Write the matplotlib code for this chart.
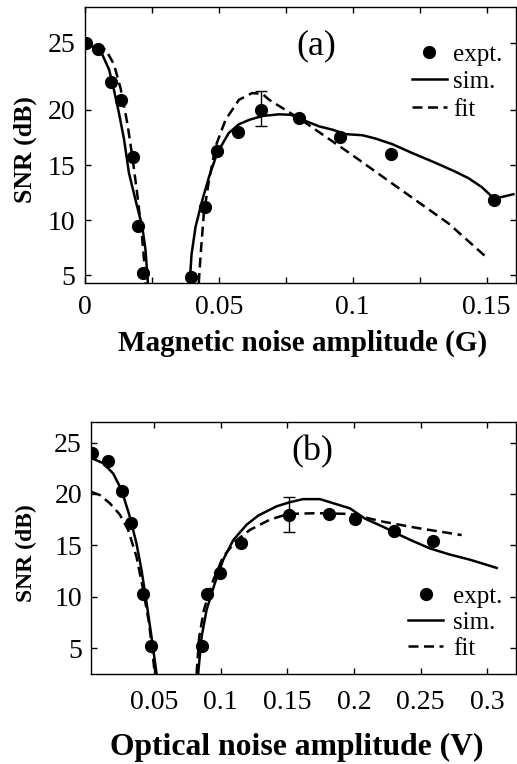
import numpy as np
import matplotlib
matplotlib.use("Agg")
import matplotlib.pyplot as plt
from matplotlib.ticker import FixedLocator, MultipleLocator

plt.rcParams['font.family'] = ['Liberation Serif', 'DejaVu Serif']
plt.rcParams['mathtext.fontset'] = 'stix'

# ---------------- Panel (a): magnetic noise ----------------
a_expt_x = [0.0003, 0.0047, 0.0098, 0.0135, 0.0180, 0.0199, 0.0216,
            0.0397, 0.0448, 0.0493, 0.0572, 0.0659, 0.0800, 0.0954, 0.1144, 0.1526]
a_expt_y = [25.0, 24.5, 22.1, 20.7, 15.75, 9.5, 5.25,
            4.85, 11.2, 16.3, 17.95, 20.0, 19.25, 17.5, 16.0, 11.8]
a_err_x = [0.0659]
a_err_y = [20.0]
a_err_lo = [1.5]
a_err_hi = [1.37]

a_sim1_x = [0.0, 0.004, 0.0065, 0.009, 0.0108, 0.0127, 0.0146, 0.0164, 0.0189, 0.0214, 0.0226, 0.0235]
a_sim1_y = [25.0, 24.6, 24.1, 23.0, 21.5, 19.7, 17.3, 14.3, 11.8, 9.4, 7.3, 4.3]
a_sim2_x = [0.0391, 0.0398, 0.0413, 0.0438, 0.0463, 0.0494, 0.0537, 0.0575, 0.0614, 0.0663,
            0.0726, 0.0770, 0.0813, 0.0875, 0.0925, 0.0974, 0.1037, 0.1085, 0.1147, 0.1221,
            0.1309, 0.1383, 0.1433, 0.1482, 0.1526, 0.1557, 0.1600]
a_sim2_y = [4.3, 6.9, 9.4, 11.8, 13.9, 16.1, 17.9, 18.7, 19.1, 19.45,
            19.6, 19.55, 19.1, 18.5, 18.2, 17.8, 17.7, 17.4, 16.9, 16.1,
            15.2, 14.4, 13.8, 13.0, 12.0, 12.1, 12.35]
a_fit1_x = [0.004, 0.0077, 0.0108, 0.0133, 0.0158, 0.0177, 0.0195, 0.0212, 0.0223, 0.0226]
a_fit1_y = [24.7, 24.5, 23.4, 21.6, 18.8, 15.75, 12.4, 8.8, 5.7, 4.3]
a_fit2_x = [0.0425, 0.0432, 0.0444, 0.0463, 0.0488, 0.0525, 0.0575, 0.0624, 0.0662,
            0.0688, 0.0799, 0.0987, 0.1172, 0.1358, 0.1501]
a_fit2_y = [4.3, 6.9, 10.6, 13.6, 16.7, 19.1, 20.75, 21.25, 21.2,
            20.75, 19.24, 16.1, 12.9, 9.7, 6.6]

a_xticks = [0, 0.05, 0.1, 0.15]
a_xticklabels = ['0', '0.05', '0.1', '0.15']
a_yticks = [5, 10, 15, 20, 25]

# ---------------- Panel (b): optical noise ----------------
b_expt_x = [0.0038, 0.0151, 0.0263, 0.0324, 0.0418, 0.0476,
            0.0857, 0.0894, 0.0994, 0.1149, 0.1512, 0.1812, 0.2007, 0.2300, 0.2595]
b_expt_y = [24.0, 23.2, 20.3, 17.2, 10.3, 5.15,
            5.15, 10.3, 12.35, 15.2, 18.0, 18.1, 17.55, 16.4, 15.4]
b_err_x = [0.1512]
b_err_y = [18.0]
b_err = [1.7]

b_sim1_x = [0.003, 0.0118, 0.0193, 0.0256, 0.0318, 0.0368, 0.0406, 0.0444, 0.0481, 0.0519]
b_sim1_y = [23.5, 23.0, 22.0, 20.4, 17.8, 15.2, 12.6, 9.4, 6.1, 2.5]
b_sim2_x = [0.0831, 0.0857, 0.0894, 0.0956, 0.1019, 0.1094, 0.1194, 0.1282, 0.1420, 0.1519,
            0.1619, 0.1745, 0.1845, 0.1970, 0.2083, 0.2220, 0.2345, 0.2445, 0.2570, 0.2720,
            0.2871, 0.3071]
b_sim2_y = [2.5, 6.1, 8.7, 11.3, 13.6, 15.5, 17.0, 17.9, 18.8, 19.2,
            19.5, 19.5, 19.1, 18.6, 17.6, 16.8, 16.0, 15.4, 14.7, 14.1,
            13.6, 12.8]
b_fit1_x = [0.003, 0.0093, 0.0168, 0.0243, 0.0306, 0.0368, 0.0418, 0.0463, 0.0506]
b_fit1_y = [20.2, 19.9, 19.1, 18.0, 16.5, 13.9, 10.7, 7.4, 2.5]
b_fit2_x = [0.0819, 0.0839, 0.0874, 0.0944, 0.1019, 0.1119, 0.1219, 0.1369, 0.1507,
            0.1720, 0.1970, 0.2220, 0.2470, 0.2808]
b_fit2_y = [2.5, 6.1, 8.7, 11.6, 13.9, 15.5, 16.5, 17.5, 18.06,
            18.13, 18.06, 17.3, 16.7, 16.0]

b_xticks = [0.05, 0.1, 0.15, 0.2, 0.25, 0.3]
b_xticklabels = ['0.05', '0.1', '0.15', '0.2', '0.25', '0.3']
b_yticks = [5, 10, 15, 20, 25]

# ---------------- figure ----------------
fig = plt.figure(figsize=(5.17, 7.64), dpi=100)
ax1 = fig.add_axes([85/517, 1 - 283/764, 431/517, 276/764])
ax2 = fig.add_axes([91/517, 1 - 674/764, 425/517, 252.3/764])

# Reference panel (a) has a stretched top interval (20-25)
K = 13.4 / 11.0
def fwd(y):
    y = np.asarray(y, float)
    return np.where(y <= 20, y, 20 + (y - 20) * K)
def inv(y):
    y = np.asarray(y, float)
    return np.where(y <= 20, y, 20 + (y - 20) / K)
ax1.set_yscale('function', functions=(fwd, inv))

LW = 1.8
MS = 8.5
DASH = (0, (4.0, 2.2))
TFS = 20

def style(ax, xpad, ypad):
    ax.tick_params(direction='in', top=True, right=True, length=4, width=1,
                   labelsize=TFS)
    ax.tick_params(axis='x', pad=xpad)
    ax.tick_params(axis='y', pad=ypad)
    ax.tick_params(which='minor', direction='in', top=True, right=True, length=4, width=1)
    for s in ax.spines.values():
        s.set_linewidth(1.0)

# panel a
ax1.plot(a_sim1_x, a_sim1_y, '-', color='black', lw=LW)
ax1.plot(a_sim2_x, a_sim2_y, '-', color='black', lw=LW, label='sim.')
ax1.plot(a_fit1_x, a_fit1_y, color='black', lw=LW, linestyle=DASH)
ax1.plot(a_fit2_x, a_fit2_y, color='black', lw=LW, linestyle=DASH, label='fit')
ax1.plot(a_expt_x, a_expt_y, 'o', color='black', ms=MS, label='expt.', zorder=5)
ax1.errorbar(a_err_x, a_err_y, yerr=[a_err_lo, a_err_hi], fmt='none', ecolor='black',
             elinewidth=1.0, capsize=4, capthick=1.0)
ax1.set_xlim(0, 0.161)
ax1.set_ylim(4.3, 27.66)
ax1.set_xticks(a_xticks)
ax1.set_xticklabels(a_xticklabels)
ax1.xaxis.set_minor_locator(MultipleLocator(0.025))
ax1.yaxis.set_major_locator(FixedLocator(a_yticks))
ax1.yaxis.set_minor_locator(FixedLocator([]))
ax1.set_yticklabels([str(v) for v in a_yticks])
style(ax1, 8.6, 7.0)
ax1.set_xlabel('Magnetic noise amplitude (G)', fontsize=21, fontweight='bold')
ax1.xaxis.set_label_coords(0.5046, -0.168)
ax1.set_ylabel('SNR (dB)', fontsize=18.5, fontweight='bold')
ax1.yaxis.set_label_coords(-0.112, 0.482)
ax1.text(0.536, 0.86, '(a)', transform=ax1.transAxes, fontsize=26, ha='center', va='center')
h, l = ax1.get_legend_handles_labels()
order = [l.index('expt.'), l.index('sim.'), l.index('fit')]
ax1.legend([h[i] for i in order], [l[i] for i in order], loc='upper left',
           bbox_to_anchor=(0.758, 0.869), frameon=False, fontsize=18,
           handlelength=1.4, handletextpad=0.25, labelspacing=0.2,
           borderaxespad=0, borderpad=0)

# panel b
ax2.plot(b_sim1_x, b_sim1_y, '-', color='black', lw=LW)
ax2.plot(b_sim2_x, b_sim2_y, '-', color='black', lw=LW, label='sim.')
ax2.plot(b_fit1_x, b_fit1_y, color='black', lw=LW, linestyle=DASH)
ax2.plot(b_fit2_x, b_fit2_y, color='black', lw=LW, linestyle=DASH, label='fit')
ax2.plot(b_expt_x, b_expt_y, 'o', color='black', ms=MS, label='expt.', zorder=5)
ax2.errorbar(b_err_x, b_err_y, yerr=b_err, fmt='none', ecolor='black',
             elinewidth=1.0, capsize=4, capthick=1.0)
ax2.set_xlim(0.0027, 0.3216)
ax2.set_ylim(2.47, 27.04)
ax2.set_xticks(b_xticks)
ax2.set_xticklabels(b_xticklabels)
ax2.set_yticks(b_yticks)
style(ax2, 11.5, 6.5)
ax2.set_xlabel('Optical noise amplitude (V)', fontsize=22.8, fontweight='bold')
ax2.xaxis.set_label_coords(0.4835, -0.2338)
ax2.set_ylabel('SNR (dB)', fontsize=17, fontweight='bold')
ax2.yaxis.set_label_coords(-0.127, 0.48)
ax2.text(0.52, 0.88, '(b)', transform=ax2.transAxes, fontsize=26, ha='center', va='center')
h, l = ax2.get_legend_handles_labels()
order = [l.index('expt.'), l.index('sim.'), l.index('fit')]
ax2.legend([h[i] for i in order], [l[i] for i in order], loc='upper left',
           bbox_to_anchor=(0.746, 0.352), frameon=False, fontsize=18,
           handlelength=1.4, handletextpad=0.4, labelspacing=0.15,
           borderaxespad=0, borderpad=0)

fig.savefig('out.png', dpi=100)
